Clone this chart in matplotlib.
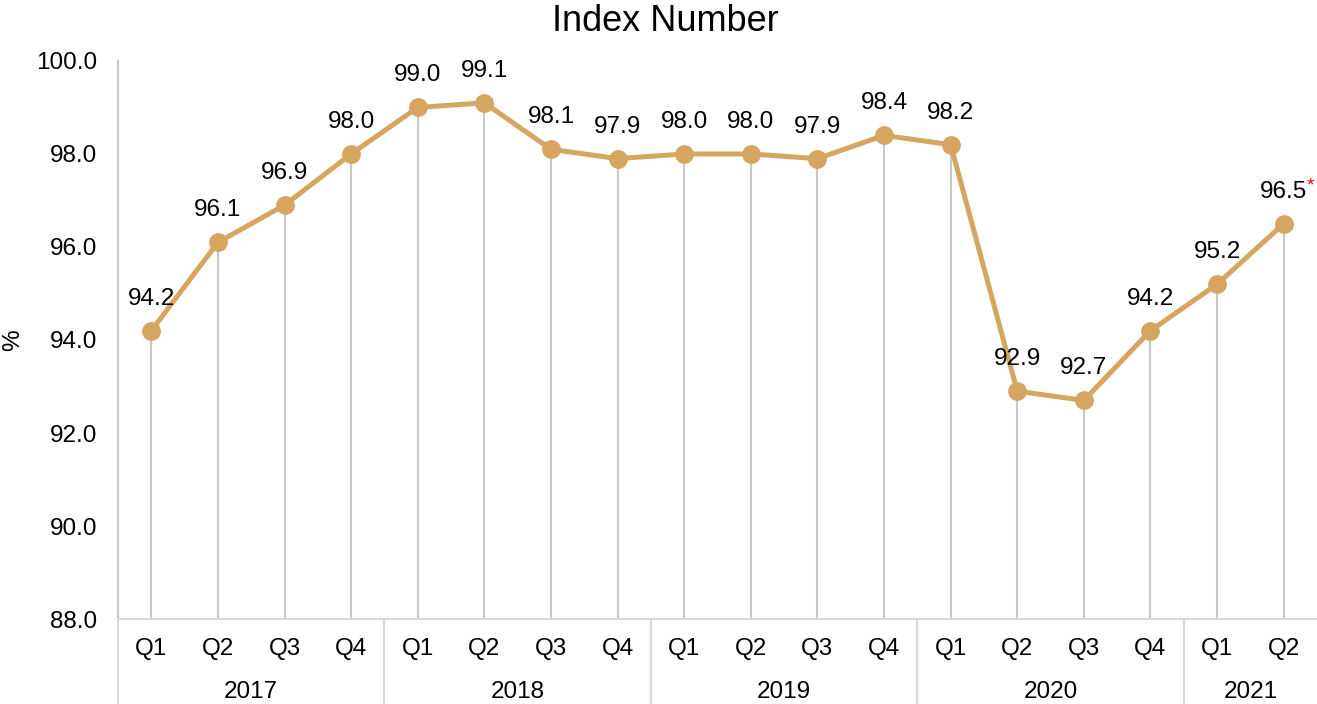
import matplotlib
matplotlib.use("Agg")
import matplotlib.pyplot as plt
import matplotlib.transforms as mtransforms

plt.rcParams['font.family'] = ['Liberation Sans', 'DejaVu Sans']

quarters = ["Q1", "Q2", "Q3", "Q4", "Q1", "Q2", "Q3", "Q4", "Q1", "Q2", "Q3", "Q4",
            "Q1", "Q2", "Q3", "Q4", "Q1", "Q2"]
years = ["2017", "2018", "2019", "2020", "2021"]
year_counts = [4, 4, 4, 4, 2]
values = [94.2, 96.1, 96.9, 98.0, 99.0, 99.1, 98.1, 97.9, 98.0, 98.0, 97.9, 98.4,
          98.2, 92.9, 92.7, 94.2, 95.2, 96.5]
labels = ["94.2", "96.1", "96.9", "98.0", "99.0", "99.1", "98.1", "97.9", "98.0", "98.0",
          "97.9", "98.4", "98.2", "92.9", "92.7", "94.2", "95.2", "96.5"]
yticks = [88.0, 90.0, 92.0, 94.0, 96.0, 98.0, 100.0]

line_color = '#D6A560'
grid_color = '#C8C8C8'
fs = 17.5

fig = plt.figure(figsize=(13.17, 7.04), dpi=100)
ax = fig.add_axes([0.0896, 0.1207, 0.9104, 0.7927])

x = list(range(len(values)))
ax.vlines(x, 88, values, color=grid_color, lw=1.5, zorder=1)
ax.plot(x, values, color=line_color, lw=3.6, marker='o', ms=12.5, zorder=3)

for i, (v, lab) in enumerate(zip(values, labels)):
    ax.annotate(lab, (i, v), xytext=(0, 32), textcoords='offset pixels',
                ha='center', va='center', fontsize=fs, color='black')
ax.annotate('*', (x[-1], values[-1]), xytext=(27, 38), textcoords='offset pixels',
            ha='center', va='center', fontsize=14, color='red')

ax.set_xlim(-0.5, len(values) - 0.5)
ax.set_ylim(88, 100)
ax.set_yticks(yticks)
ax.set_yticklabels([f"{t:.1f}" for t in yticks], fontsize=fs)
ax.set_xticks(x)
ax.set_xticklabels(quarters, fontsize=fs)
ax.tick_params(axis='both', length=0)
ax.tick_params(axis='x', pad=14)
ax.tick_params(axis='y', pad=15)

for s in ['top', 'right']:
    ax.spines[s].set_visible(False)
ax.spines['left'].set_color(grid_color)
ax.spines['left'].set_linewidth(1.5)
ax.spines['bottom'].set_color('#D9D9D9')
ax.spines['bottom'].set_linewidth(1.5)

trans = mtransforms.blended_transform_factory(ax.transData, ax.transAxes)
pos = -0.5
bottom_y = -0.1207 / 0.7927
for yr, cnt in zip(years, year_counts):
    ax.plot([pos, pos], [0, bottom_y], transform=trans, color='#D9D9D9', lw=1.5,
            clip_on=False)
    ax.text(pos + cnt / 2, -0.131, yr, transform=trans, ha='center', va='center',
            fontsize=fs)
    pos += cnt

ax.set_ylabel('%', fontsize=fs)
ax.yaxis.set_label_coords(-0.078, 0.5)
fig.text(0.505, 0.969, 'Index Number', ha='center', va='center', fontsize=26)

fig.savefig('out.png', dpi=100)
